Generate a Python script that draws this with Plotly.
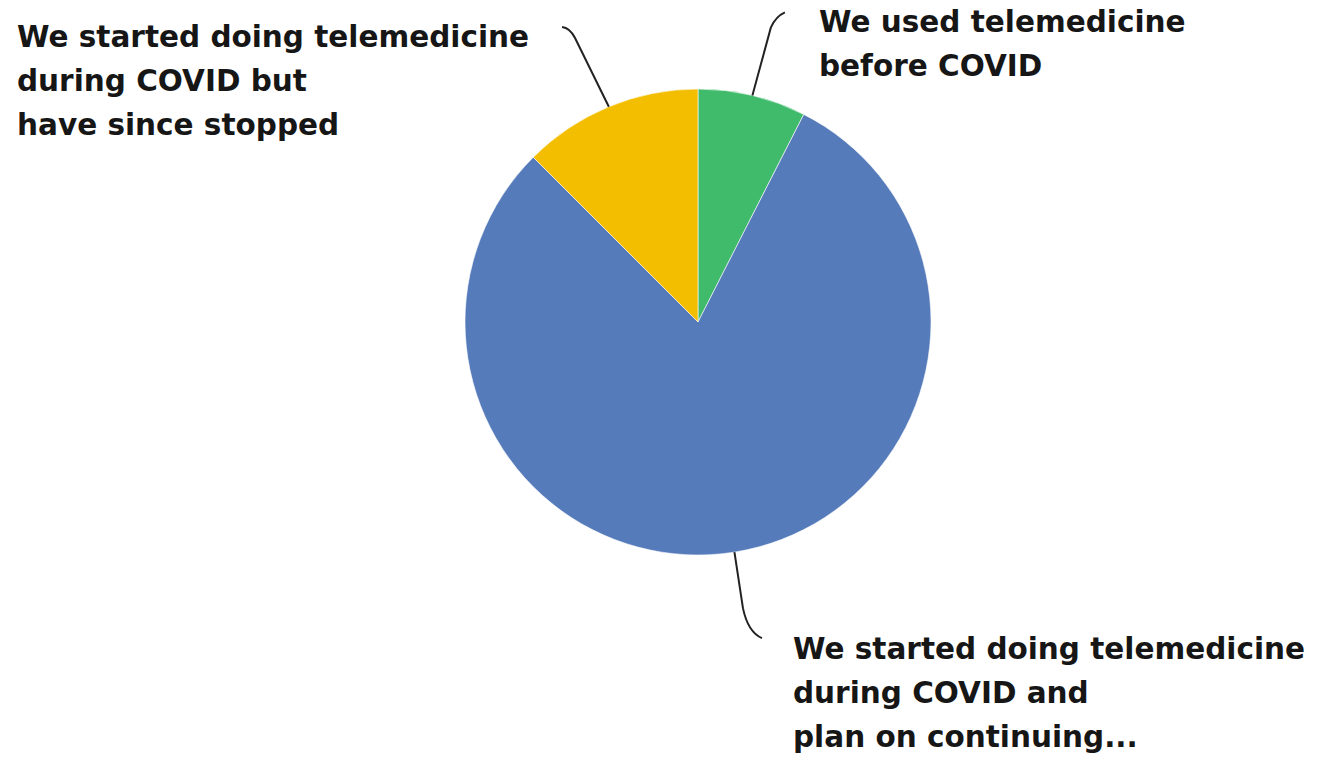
import math
import plotly.graph_objects as go

# ---- data ----
labels = [
    "We used telemedicine before COVID",
    "We started doing telemedicine during COVID and plan on continuing...",
    "We started doing telemedicine during COVID but have since stopped",
]
values = [3, 32, 5]
label_lines = [
    ["We used telemedicine", "before COVID"],
    ["We started doing telemedicine", "during COVID and", "plan on continuing..."],
    ["We started doing telemedicine", "during COVID but", "have since stopped"],
]
colors = ["#3FBB6B", "#557BBA", "#F4BE00"]

# ---- layout constants (pixels) ----
W, H = 1322, 761
CX, CY, R = 698, 322, 233
FONT = dict(family="DejaVu Sans", size=29.5, color="#161616", weight="bold")
LINE_GAP = 44
# label block: (left x, first baseline y)
label_pos = [(817, 33), (791, 660), (15, 48)]
# leader line shape relative to anchor: (straight end dx,dy), (ctrl dx,dy), (end dx,dy)
leader_geom = [
    ((18.5, -68), (23.5, -79), (32.5, -83)),
    ((8.5, 56), (13.5, 80), (27.5, 86)),
    ((-33.8, -68.7), (-38.8, -78.7), (-46.8, -79.7)),
]


def px(x, y):
    return x / W, 1 - y / H


fig = go.Figure(
    go.Pie(
        labels=labels,
        values=values,
        marker=dict(colors=colors, line=dict(color="white", width=0.6)),
        sort=False,
        direction="clockwise",
        rotation=0,
        textinfo="none",
        hoverinfo="label+percent",
        domain=dict(
            x=[(CX - R) / W, (CX + R) / W],
            y=[1 - (CY + R) / H, 1 - (CY - R) / H],
        ),
        showlegend=False,
    )
)

total = sum(values)
cum = 0
shapes = []
annotations = []
for i, v in enumerate(values):
    mid = (cum + v / 2) / total * 2 * math.pi
    cum += v
    ax = CX + R * math.sin(mid)
    ay = CY - R * math.cos(mid)
    (sx, sy), (qx, qy), (ex, ey) = leader_geom[i]
    p0 = px(ax, ay)
    p1 = px(ax + sx, ay + sy)
    pq = px(ax + qx, ay + qy)
    p2 = px(ax + ex, ay + ey)
    path = (
        f"M {p0[0]},{p0[1]} L {p1[0]},{p1[1]} "
        f"Q {pq[0]},{pq[1]} {p2[0]},{p2[1]}"
    )
    shapes.append(
        dict(type="path", xref="paper", yref="paper", path=path,
             line=dict(color="#222222", width=2))
    )
    lx, ly = label_pos[i]
    for j, line in enumerate(label_lines[i]):
        bx, by = px(lx, ly + j * LINE_GAP - 0.36 * FONT["size"])
        annotations.append(
            dict(x=bx, y=by, xref="paper", yref="paper", text=line,
                 showarrow=False, xanchor="left", yanchor="middle",
                 font=FONT)
        )

fig.update_layout(
    width=W,
    height=H,
    margin=dict(l=0, r=0, t=0, b=0),
    paper_bgcolor="white",
    plot_bgcolor="white",
    shapes=shapes,
    annotations=annotations,
)

fig.write_html(
    "out.html",
    config={"displayModeBar": False},
    post_script="document.body.style.margin='0';document.body.style.overflow='hidden';",
)
